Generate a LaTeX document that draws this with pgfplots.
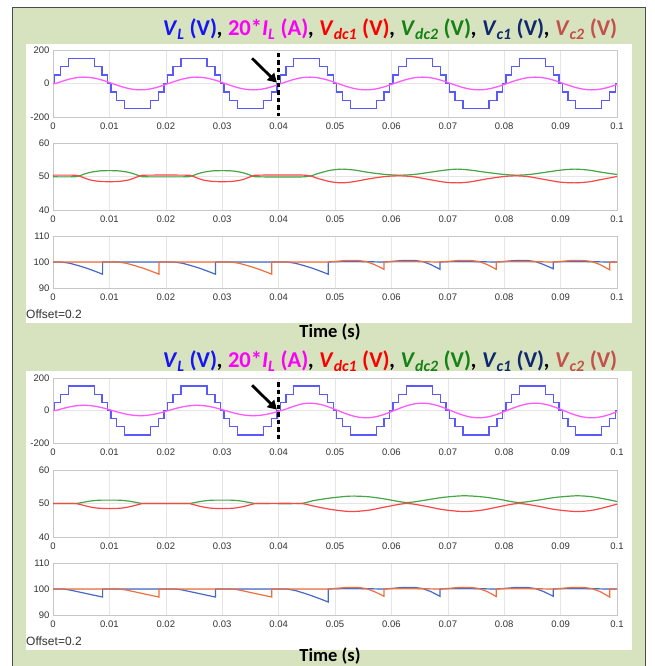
\documentclass[border=0pt]{standalone}
\usepackage{fontspec}
\setmainfont{Carlito}
\newfontfamily\tickfont{Liberation Sans}
\usepackage{pgfplots}
\pgfplotsset{compat=1.18}
\usetikzlibrary{arrows.meta}
\definecolor{bggreen}{RGB}{215,226,190}
\definecolor{lblue}{RGB}{90,90,250}
\definecolor{lpink}{RGB}{255,90,255}
\definecolor{lred}{RGB}{250,70,70}
\definecolor{lgreen}{RGB}{70,165,70}
\definecolor{cblue}{RGB}{70,105,200}
\definecolor{corange}{RGB}{240,110,60}
\definecolor{tblue}{RGB}{20,20,245}
\definecolor{tmag}{RGB}{250,0,250}
\definecolor{tred}{RGB}{250,0,0}
\definecolor{tgreen}{RGB}{20,130,20}
\definecolor{tnavy}{RGB}{15,40,110}
\definecolor{tbrown}{RGB}{195,80,75}
\pgfplotsset{
  sub/.style={
    scale only axis, width=564pt, anchor=south west,
    xmin=0, xmax=0.1,
    xtick={0,0.01,0.02,0.03,0.04,0.05,0.06,0.07,0.08,0.09,0.1},
    xticklabels={0,0.01,0.02,0.03,0.04,0.05,0.06,0.07,0.08,0.09,0.1},
    grid=major, major grid style={draw=black!10, line width=0.6pt},
    axis line style={draw=black!22, line width=0.8pt},
    major tick length=0pt,
    tick label style={font=\tickfont\fontsize{9.5}{9.5}\selectfont, text=black!80},
    xticklabel style={yshift=-2.5pt},
  },
}
\newcommand{\charttitle}{\fontsize{22.6}{24}\selectfont\bfseries
\textcolor{tblue}{\textit{V}\textsubscript{\textit{L}} (V)}\textit{,} \textcolor{tmag}{20*\textit{I}\textsubscript{\textit{L}} (A)}\textit{,} \textcolor{tred}{\textit{V}\textsubscript{\textit{dc1}} (V)}\textit{,} \textcolor{tgreen}{\textit{V}\textsubscript{\textit{dc2}} (V)}\textit{,} \textcolor{tnavy}{\textit{V}\textsubscript{\textit{c1}} (V)}\textit{,} \textcolor{tbrown}{\textit{V}\textsubscript{\textit{c2}} (V)}}
\newcommand{\VL}{(0,0) (0.0003,50) (0.0013,100) (0.0027,150) (0.0073,100) (0.0087,50) (0.0097,0) (0.0103,-50) (0.0113,-100) (0.0127,-150) (0.0173,-100) (0.0187,-50) (0.0197,0)
(0.02,0) (0.0203,50) (0.0213,100) (0.0227,150) (0.0273,100) (0.0287,50) (0.0297,0) (0.0303,-50) (0.0313,-100) (0.0327,-150) (0.0373,-100) (0.0387,-50) (0.0397,0)
(0.04,0) (0.0403,50) (0.0413,100) (0.0427,150) (0.0473,100) (0.0487,50) (0.0497,0) (0.0503,-50) (0.0513,-100) (0.0527,-150) (0.0573,-100) (0.0587,-50) (0.0597,0)
(0.06,0) (0.0603,50) (0.0613,100) (0.0627,150) (0.0673,100) (0.0687,50) (0.0697,0) (0.0703,-50) (0.0713,-100) (0.0727,-150) (0.0773,-100) (0.0787,-50) (0.0797,0)
(0.08,0) (0.0803,50) (0.0813,100) (0.0827,150) (0.0873,100) (0.0887,50) (0.0897,0) (0.0903,-50) (0.0913,-100) (0.0927,-150) (0.0973,-100) (0.0987,-50) (0.0997,0) (0.1,0)}
\begin{document}
\begin{tikzpicture}
\useasboundingbox (0,0) rectangle (654pt,666pt);
\begin{scope}[x=1pt,y=1pt]
\fill[white] (0,0) rectangle (654,666);
\draw[black!70, line width=0.8pt, fill=bggreen] (12,659) rectangle (645,-5);
\fill[white] (26,622) rectangle (632,343);
\fill[white] (26,295) rectangle (632,16);
\node[anchor=base, inner sep=0] at (390,630) {\charttitle};
\node[anchor=base, inner sep=0] at (390,298) {\charttitle};
\node[anchor=base, inner sep=0, font=\fontsize{18.5}{20}\selectfont\bfseries] at (330,328) {Time (s)};
\node[anchor=base, inner sep=0, font=\fontsize{18.5}{20}\selectfont\bfseries] at (330,5) {Time (s)};
\node[anchor=west, inner sep=0, font=\tickfont\fontsize{12}{12}\selectfont, text=black!80] at (26,352) {Offset=0.2};
\node[anchor=west, inner sep=0, font=\tickfont\fontsize{12}{12}\selectfont, text=black!80] at (26,25) {Offset=0.2};
\end{scope}

% ---------------- TOP PANEL ----------------
\begin{axis}[sub, at={(53pt,549pt)}, height=67pt, ymin=-200, ymax=200,
  ytick={-200,0,200}, yticklabels={-200,0,200}]
\addplot[const plot, lblue, line width=1.3pt] coordinates {\VL};
\addplot[smooth, lpink, line width=1.3pt] coordinates {
(0,0) (0.0005,0) (0.0015,11.7) (0.0025,22.3) (0.0035,30.7) (0.0045,36.1) (0.0055,38) (0.0065,36.1) (0.0075,30.7) (0.0085,22.3) (0.0095,11.7) (0.0105,0) (0.0115,-11.7) (0.0125,-22.3) (0.0135,-30.7) (0.0145,-36.1) (0.0155,-38) (0.0165,-36.1) (0.0175,-30.7) (0.0185,-22.3) (0.0195,-11.7)
(0.0205,0) (0.0215,11.7) (0.0225,22.3) (0.0235,30.7) (0.0245,36.1) (0.0255,38) (0.0265,36.1) (0.0275,30.7) (0.0285,22.3) (0.0295,11.7) (0.0305,0) (0.0315,-11.7) (0.0325,-22.3) (0.0335,-30.7) (0.0345,-36.1) (0.0355,-38) (0.0365,-36.1) (0.0375,-30.7) (0.0385,-22.3) (0.0395,-11.7)
(0.0405,0) (0.0415,11.7) (0.0425,22.3) (0.0435,30.7) (0.0445,36.1) (0.0455,38) (0.0465,36.1) (0.0475,30.7) (0.0485,22.3) (0.0495,11.7) (0.0505,0) (0.0515,-11.7) (0.0525,-22.3) (0.0535,-30.7) (0.0545,-36.1) (0.0555,-38) (0.0565,-36.1) (0.0575,-30.7) (0.0585,-22.3) (0.0595,-11.7)
(0.0605,0) (0.0615,11.7) (0.0625,22.3) (0.0635,30.7) (0.0645,36.1) (0.0655,38) (0.0665,36.1) (0.0675,30.7) (0.0685,22.3) (0.0695,11.7) (0.0705,0) (0.0715,-11.7) (0.0725,-22.3) (0.0735,-30.7) (0.0745,-36.1) (0.0755,-38) (0.0765,-36.1) (0.0775,-30.7) (0.0785,-22.3) (0.0795,-11.7)
(0.0805,0) (0.0815,11.7) (0.0825,22.3) (0.0835,30.7) (0.0845,36.1) (0.0855,38) (0.0865,36.1) (0.0875,30.7) (0.0885,22.3) (0.0895,11.7) (0.0905,0) (0.0915,-11.7) (0.0925,-22.3) (0.0935,-30.7) (0.0945,-36.1) (0.0955,-38) (0.0965,-36.1) (0.0975,-30.7) (0.0985,-22.3) (0.0995,-11.7) (0.1,-5.9)};
\draw[black, line width=2.6pt, dash pattern=on 4.5pt off 3pt] (axis cs:0.04,185) -- (axis cs:0.04,-195);
\draw[black, line width=2.8pt, -{Triangle[length=9pt,width=10pt]}] (axis cs:0.0353,150) -- (axis cs:0.0397,5);
\end{axis}

\begin{axis}[sub, at={(53pt,456pt)}, height=67pt, ymin=40, ymax=60,
  ytick={40,50,60}, yticklabels={40,50,60}]
\addplot[smooth, lgreen, line width=1.2pt] coordinates {
(0,49.9) (0.0035,49.9) (0.0045,50.1) (0.0055,50.7) (0.0065,51.2) (0.0075,51.5) (0.0085,51.7) (0.01,51.75) (0.0115,51.7) (0.0125,51.5) (0.0135,51.2) (0.0145,50.7) (0.0155,50.1) (0.0165,49.9)
(0.0235,49.9) (0.0245,50.1) (0.0255,50.7) (0.0265,51.2) (0.0275,51.5) (0.0285,51.7) (0.03,51.75) (0.0315,51.7) (0.0325,51.5) (0.0335,51.2) (0.0345,50.7) (0.0355,50.1) (0.0365,49.9)
(0.0445,49.9) (0.047,50.9) (0.049,51.8) (0.0512,52.2) (0.0535,51.9) (0.056,51.2) (0.059,50.6) (0.0615,50.4) (0.064,50.6) (0.067,51.3) (0.0695,51.9) (0.0717,52.2) (0.074,51.9) (0.077,51.2) (0.080,50.6) (0.0822,50.4) (0.0845,50.6) (0.0875,51.3) (0.090,51.9) (0.0925,52.2) (0.095,51.9) (0.0975,51.2) (0.1,50.6)};
\addplot[smooth, lred, line width=1.2pt] coordinates {
(0,50.4) (0.0035,50.4) (0.0045,50.2) (0.0055,49.6) (0.0065,49.0) (0.0075,48.7) (0.0085,48.5) (0.01,48.45) (0.0115,48.5) (0.0125,48.7) (0.0135,49.0) (0.0145,49.6) (0.0155,50.2) (0.0165,50.4)
(0.0235,50.4) (0.0245,50.2) (0.0255,49.6) (0.0265,49.0) (0.0275,48.7) (0.0285,48.5) (0.03,48.45) (0.0315,48.5) (0.0325,48.7) (0.0335,49.0) (0.0345,49.6) (0.0355,50.2) (0.0365,50.4)
(0.0445,50.4) (0.047,49.4) (0.049,48.5) (0.0512,48.1) (0.0535,48.5) (0.056,49.3) (0.059,50.0) (0.0615,50.2) (0.064,49.9) (0.067,49.0) (0.0695,48.3) (0.0717,48.1) (0.074,48.4) (0.077,49.3) (0.080,50.0) (0.0822,50.2) (0.0845,49.9) (0.0875,49.0) (0.090,48.3) (0.0925,48.1) (0.095,48.4) (0.0975,49.2) (0.1,50.0)};
\end{axis}

\begin{axis}[sub, at={(53pt,378pt)}, height=52pt, ymin=90, ymax=110,
  ytick={90,100,110}, yticklabels={90,100,110}]
\addplot[cblue, line width=1.2pt] coordinates {
(0,100) (0.0015,100) (0.003,99.5) (0.0045,98.6) (0.006,97.6) (0.0075,96.4) (0.0088,95.3) (0.0088,100)
(0.0215,100) (0.023,99.5) (0.0245,98.6) (0.026,97.6) (0.0275,96.4) (0.0288,95.3) (0.0288,100)
(0.0415,100) (0.043,99.5) (0.0445,98.6) (0.046,97.6) (0.0475,96.4) (0.0488,95.3) (0.0488,100)
(0.051,100.15) (0.053,100.2) (0.0555,100.1) (0.0587,100) (0.0605,100.3) (0.062,100.6) (0.064,100.6) (0.0655,100.2) (0.067,99.0) (0.0686,97.2) (0.0686,100)
(0.0705,100.15) (0.073,100.2) (0.0755,100.1) (0.0786,100) (0.0805,100.3) (0.082,100.6) (0.084,100.6) (0.0855,100.2) (0.087,99.0) (0.0887,97.4) (0.0887,100)
(0.0905,100.15) (0.093,100.2) (0.0955,100.1) (0.0987,100) (0.1,100.05)};
\addplot[corange, line width=1.2pt] coordinates {
(0,100) (0.0115,100) (0.013,99.5) (0.0145,98.6) (0.016,97.6) (0.0175,96.4) (0.0188,95.3) (0.0188,100)
(0.0315,100) (0.033,99.5) (0.0345,98.6) (0.036,97.6) (0.0375,96.4) (0.0388,95.3) (0.0388,100)
(0.0488,100) (0.0505,100.3) (0.052,100.6) (0.054,100.6) (0.0555,100.2) (0.057,99.0) (0.0587,97.2) (0.0587,100)
(0.0605,100.15) (0.063,100.2) (0.0655,100.1) (0.0686,100) (0.0705,100.3) (0.072,100.6) (0.074,100.6) (0.0755,100.2) (0.077,99.0) (0.0786,97.2) (0.0786,100)
(0.0805,100.15) (0.083,100.2) (0.0855,100.1) (0.0887,100) (0.0905,100.3) (0.092,100.6) (0.094,100.6) (0.0955,100.2) (0.097,99.0) (0.0987,97.0) (0.0987,100) (0.1,100)};
\end{axis}

% ---------------- BOTTOM PANEL ----------------
\begin{axis}[sub, at={(53pt,223pt)}, height=65pt, ymin=-200, ymax=200,
  ytick={-200,0,200}, yticklabels={-200,0,200}]
\addplot[const plot, lblue, line width=1.3pt] coordinates {\VL};
\addplot[smooth, lpink, line width=1.3pt] coordinates {
(0,0) (0.0005,0) (0.0015,9.9) (0.0025,18.8) (0.0035,25.9) (0.0045,30.4) (0.0055,32) (0.0065,30.4) (0.0075,25.9) (0.0085,18.8) (0.0095,9.9) (0.0105,0) (0.0115,-9.9) (0.0125,-18.8) (0.0135,-25.9) (0.0145,-30.4) (0.0155,-32) (0.0165,-30.4) (0.0175,-25.9) (0.0185,-18.8) (0.0195,-9.9)
(0.0205,0) (0.0215,9.9) (0.0225,18.8) (0.0235,25.9) (0.0245,30.4) (0.0255,32) (0.0265,30.4) (0.0275,25.9) (0.0285,18.8) (0.0295,9.9) (0.0305,0) (0.0315,-9.9) (0.0325,-18.8) (0.0335,-25.9) (0.0345,-30.4) (0.0355,-32) (0.0365,-30.4) (0.0375,-25.9) (0.0385,-18.8) (0.0395,-9.9)
(0.0405,0) (0.0415,11.1) (0.0425,23.5) (0.0435,34.8) (0.0445,42.8) (0.0455,45) (0.0465,42.8) (0.0475,36.4) (0.0485,26.5) (0.0495,13.9) (0.0505,0) (0.0515,-13.9) (0.0525,-26.5) (0.0535,-36.4) (0.0545,-42.8) (0.0555,-45) (0.0565,-42.8) (0.0575,-36.4) (0.0585,-26.5) (0.0595,-13.9)
(0.0605,0) (0.0615,13.9) (0.0625,26.5) (0.0635,36.4) (0.0645,42.8) (0.0655,45) (0.0665,42.8) (0.0675,36.4) (0.0685,26.5) (0.0695,13.9) (0.0705,0) (0.0715,-13.9) (0.0725,-26.5) (0.0735,-36.4) (0.0745,-42.8) (0.0755,-45) (0.0765,-42.8) (0.0775,-36.4) (0.0785,-26.5) (0.0795,-13.9)
(0.0805,0) (0.0815,13.9) (0.0825,26.5) (0.0835,36.4) (0.0845,42.8) (0.0855,45) (0.0865,42.8) (0.0875,36.4) (0.0885,26.5) (0.0895,13.9) (0.0905,0) (0.0915,-13.9) (0.0925,-26.5) (0.0935,-36.4) (0.0945,-42.8) (0.0955,-45) (0.0965,-42.8) (0.0975,-36.4) (0.0985,-26.5) (0.0995,-13.9) (0.1,-7.0)};
\draw[black, line width=2.6pt, dash pattern=on 4.5pt off 3pt] (axis cs:0.04,175) -- (axis cs:0.04,-190);
\draw[black, line width=2.8pt, -{Triangle[length=9pt,width=10pt]}] (axis cs:0.0353,155) -- (axis cs:0.0397,5);
\end{axis}

\begin{axis}[sub, at={(53pt,129pt)}, height=67pt, ymin=40, ymax=60,
  ytick={40,50,60}, yticklabels={40,50,60}]
\addplot[smooth, lgreen, line width=1.2pt] coordinates {
(0,50) (0.0035,50) (0.0045,50.1) (0.0055,50.4) (0.0065,50.7) (0.0075,50.9) (0.0085,51.0) (0.01,51.0) (0.0115,51.0) (0.0125,50.9) (0.0135,50.7) (0.0145,50.4) (0.0155,50.1) (0.0165,50)
(0.0235,50) (0.0245,50.1) (0.0255,50.4) (0.0265,50.7) (0.0275,50.9) (0.0285,51.0) (0.03,51.0) (0.0315,51.0) (0.0325,50.9) (0.0335,50.7) (0.0345,50.4) (0.0355,50.1) (0.0365,50)
(0.0437,50) (0.046,50.8) (0.049,51.6) (0.0527,52.2) (0.056,52.0) (0.059,51.3) (0.0627,50.3) (0.066,51.0) (0.069,51.8) (0.0727,52.3) (0.076,52.0) (0.079,51.3) (0.0825,50.3) (0.086,51.0) (0.089,51.8) (0.0929,52.3) (0.096,51.9) (0.1,50.6)};
\addplot[smooth, lred, line width=1.2pt] coordinates {
(0,50) (0.0035,50) (0.0045,49.85) (0.0055,49.4) (0.0065,49.0) (0.0075,48.7) (0.0085,48.55) (0.01,48.5) (0.0115,48.55) (0.0125,48.7) (0.0135,49.0) (0.0145,49.4) (0.0155,49.85) (0.0165,50)
(0.0235,50) (0.0245,49.85) (0.0255,49.4) (0.0265,49.0) (0.0275,48.7) (0.0285,48.55) (0.03,48.5) (0.0315,48.55) (0.0325,48.7) (0.0335,49.0) (0.0345,49.4) (0.0355,49.85) (0.0365,50)
(0.0437,50) (0.046,49.3) (0.049,48.3) (0.0527,47.6) (0.056,48.0) (0.059,49.0) (0.0627,50.0) (0.066,49.2) (0.069,48.2) (0.0727,47.6) (0.076,48.0) (0.079,49.0) (0.0825,50.0) (0.086,49.2) (0.089,48.2) (0.0929,47.6) (0.096,48.1) (0.1,49.8)};
\end{axis}

\begin{axis}[sub, at={(53pt,51pt)}, height=52pt, ymin=90, ymax=110,
  ytick={90,100,110}, yticklabels={90,100,110}]
\addplot[cblue, line width=1.2pt] coordinates {
(0,100) (0.0018,100) (0.003,99.6) (0.0045,98.9) (0.006,98.2) (0.0075,97.5) (0.0088,96.9) (0.0088,100)
(0.0218,100) (0.023,99.6) (0.0245,98.9) (0.026,98.2) (0.0275,97.5) (0.0288,96.9) (0.0288,100)
(0.0415,100) (0.043,99.4) (0.0445,98.4) (0.046,97.3) (0.0475,96.1) (0.0488,95.0) (0.0488,100)
(0.051,100.15) (0.053,100.2) (0.0555,100.1) (0.0587,100) (0.0605,100.3) (0.062,100.6) (0.064,100.6) (0.0655,100.2) (0.067,99.0) (0.0686,97.2) (0.0686,100)
(0.0705,100.15) (0.073,100.2) (0.0755,100.1) (0.0786,100) (0.0805,100.3) (0.082,100.6) (0.084,100.6) (0.0855,100.2) (0.087,99.0) (0.0887,97.2) (0.0887,100)
(0.0905,100.15) (0.093,100.2) (0.0955,100.1) (0.0987,100) (0.1,100.05)};
\addplot[corange, line width=1.2pt] coordinates {
(0,100) (0.0118,100) (0.013,99.6) (0.0145,98.9) (0.016,98.2) (0.0175,97.5) (0.0188,96.9) (0.0188,100)
(0.0318,100) (0.033,99.6) (0.0345,98.9) (0.036,98.2) (0.0375,97.5) (0.0388,96.9) (0.0388,100)
(0.0488,100) (0.0505,100.3) (0.052,100.6) (0.054,100.6) (0.0555,100.2) (0.057,99.0) (0.0587,97.2) (0.0587,100)
(0.0605,100.15) (0.063,100.2) (0.0655,100.1) (0.0686,100) (0.0705,100.3) (0.072,100.6) (0.074,100.6) (0.0755,100.2) (0.077,99.0) (0.0786,97.1) (0.0786,100)
(0.0805,100.15) (0.083,100.2) (0.0855,100.1) (0.0887,100) (0.0905,100.3) (0.092,100.6) (0.094,100.6) (0.0955,100.2) (0.097,99.0) (0.0987,96.9) (0.0987,100) (0.1,100)};
\end{axis}
\end{tikzpicture}
\end{document}
